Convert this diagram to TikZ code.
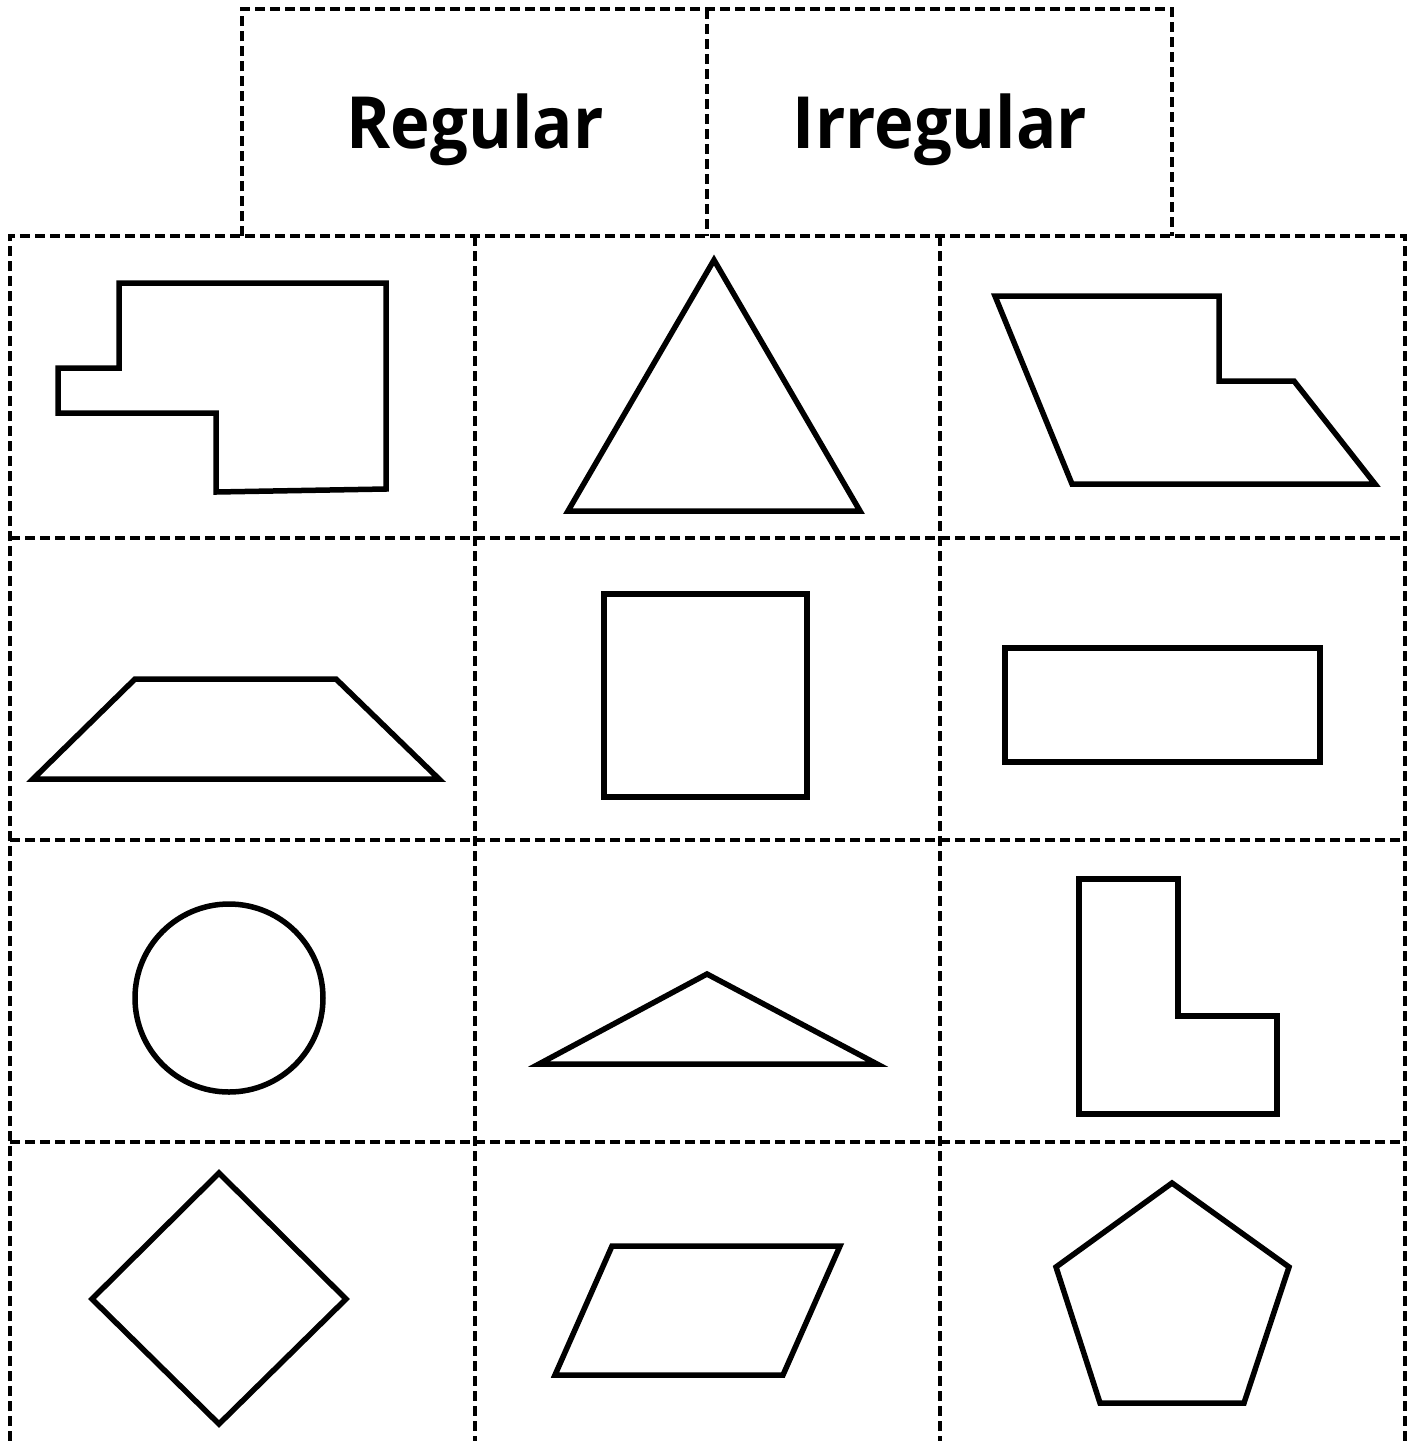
\documentclass[tikz,border=0pt]{standalone}
\usepackage{fontspec}
\setmainfont{Open Sans}
\begin{document}
\begin{tikzpicture}[x=1pt,y=-1pt,
  cut/.style={line width=3.5pt,dash pattern=on 10pt off 5pt},
  shp/.style={line width=5.5pt,line join=miter},
  lbl/.style={font=\bfseries\fontsize{72}{80}\selectfont,inner sep=0pt,anchor=base}]
\useasboundingbox (0,0) rectangle (1412,1441);
% header
\draw[cut] (242,236) -- (242,9) -- (1172,9) -- (1172,236);
\draw[cut] (707,9) -- (707,236);
\node[lbl,xscale=0.93] (reg) at (475,148) {Regular};
\node[lbl,xscale=0.93] (irr) at (940,148) {Irregular};
% grid
\draw[cut] (10,1441) -- (10,236) -- (1405,236) -- (1405,1441);
\draw[cut] (475,236) -- (475,1441);
\draw[cut] (940,236) -- (940,1441);
\foreach \y in {538,840,1142} \draw[cut] (10,\y) -- (1405,\y);
% row 1
\draw[shp] (119,283) -- (386,283) -- (386,489) -- (216,492) -- (216,413) -- (58,413) -- (58,368) -- (119,368) -- cycle;
\draw[shp] (714,260) -- (860,511) -- (568,511) -- cycle;
\draw[shp] (995,296) -- (1219,296) -- (1219,381) -- (1294,381) -- (1375,484) -- (1072,484) -- cycle;
% row 2
\draw[shp] (33,779) -- (135,679) -- (336,679) -- (439,779) -- cycle;
\draw[shp] (604,594) rectangle (807,797);
\draw[shp] (1005,648) rectangle (1320,762);
% row 3
\draw[shp] (229,998) circle[radius=94];
\draw[shp] (539,1064) -- (707,974) -- (877,1064) -- cycle;
\draw[shp] (1079,879) -- (1178,879) -- (1178,1016) -- (1277,1016) -- (1277,1114) -- (1079,1114) -- cycle;
% row 4
\draw[shp] (219,1173) -- (346,1299) -- (219,1424) -- (92,1299) -- cycle;
\draw[shp] (612,1246) -- (840,1246) -- (783,1375) -- (555,1375) -- cycle;
\draw[shp] (1172,1183) -- (1289,1267) -- (1244,1403) -- (1100,1403) -- (1056,1267) -- cycle;
\end{tikzpicture}
\end{document}
